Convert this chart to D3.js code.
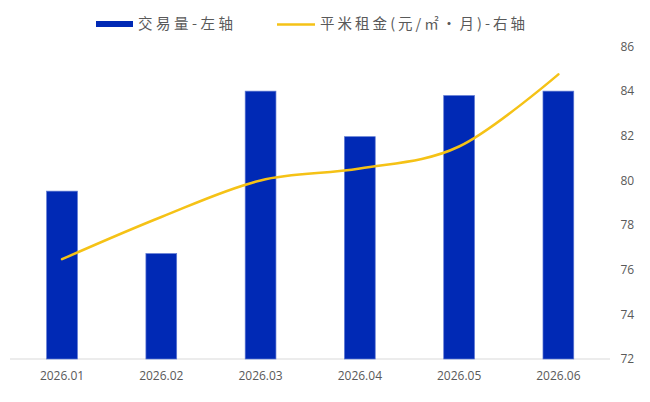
<!DOCTYPE html>
<html>
<head>
<meta charset="utf-8">
<script src="https://cdn.jsdelivr.net/npm/d3@7"></script>
<style>
  html, body { margin: 0; padding: 0; background: #fff; }
  svg { display: block; }
  .tick text { fill: #595959; font-family: "Open Sans", "Noto Sans", sans-serif; font-size: 12px; }
  .legend text { fill: #595959; font-family: "Noto Sans CJK SC", sans-serif; font-size: 14.5px; }
</style>
</head>
<body>
<svg id="chart" width="650" height="402"></svg>
<script>
// months on the x axis
let months = ['2026.01', '2026.02', '2026.03', '2026.04', '2026.05', '2026.06']
// 交易量 (left axis, hidden)
let volume = [188, 118, 300, 249, 295, 300]
// 平米租金 (right axis)
let rent = [76.47, 78.36, 80.0, 80.53, 81.52, 84.75]
let rentTicks = [72, 74, 76, 78, 80, 82, 84, 86]

let svg = d3.select('#chart')

let plotTop = 46.5, plotBottom = 359

let x = d3.scaleBand()
    .domain(months)
    .range([12.4, 608])
    .padding(0)

let yLeft = d3.scaleLinear()
    .domain([0, 350])
    .range([plotBottom, plotTop])

let yRight = d3.scaleLinear()
    .domain([72, 86])
    .range([plotBottom, plotTop])

let barW = x.bandwidth() * 0.31

// baseline
svg.append('line')
    .attr('x1', 10).attr('x2', 610)
    .attr('y1', plotBottom).attr('y2', plotBottom)
    .attr('stroke', '#d9d9d9')
    .attr('stroke-width', 1)

// bars
svg.selectAll('.bar')
    .data(months)
    .enter().append('rect')
    .attr('class', 'bar')
    .attr('x', d => x(d) + x.bandwidth() / 2 - barW / 2)
    .attr('width', barW)
    .attr('y', (d, i) => yLeft(volume[i]))
    .attr('height', (d, i) => plotBottom - yLeft(volume[i]))
    .attr('fill', '#0029b5')
    .attr('stroke', '#5d78d2')
    .attr('stroke-width', 0.7)

// rent line
let line = d3.line()
    .x((d, i) => x(months[i]) + x.bandwidth() / 2)
    .y(d => yRight(d))
    .curve(d3.curveCardinal.tension(0))

svg.append('path')
    .datum(rent)
    .attr('d', line)
    .attr('fill', 'none')
    .attr('stroke', '#f5c216')
    .attr('stroke-width', 2.5)
    .attr('stroke-linecap', 'round')

// x axis labels
let xAxis = d3.axisBottom(x).tickSize(0).tickPadding(12.5)
let gx = svg.append('g')
    .attr('transform', `translate(0, ${plotBottom})`)
    .call(xAxis)
gx.select('.domain').remove()

// right axis labels
let yAxis = d3.axisRight(yRight).tickValues(rentTicks).tickSize(0).tickPadding(0)
let gy = svg.append('g')
    .attr('transform', 'translate(620.5, 0)')
    .call(yAxis)
gy.select('.domain').remove()

// legend
let legend = svg.append('g').attr('class', 'legend')
legend.append('rect')
    .attr('x', 96).attr('y', 21)
    .attr('width', 37).attr('height', 6)
    .attr('fill', '#0029b5')
legend.append('text')
    .attr('x', 138).attr('y', 24)
    .attr('dy', '0.35em')
    .attr('textLength', 95)
    .attr('lengthAdjust', 'spacing')
    .text('交易量-左轴')
legend.append('line')
    .attr('x1', 277).attr('x2', 315)
    .attr('y1', 24.5).attr('y2', 24.5)
    .attr('stroke', '#f5c216')
    .attr('stroke-width', 2.5)
legend.append('text')
    .attr('x', 320).attr('y', 24)
    .attr('dy', '0.35em')
    .attr('textLength', 205)
    .attr('lengthAdjust', 'spacing')
    .text('平米租金(元/㎡•月)-右轴')
</script>
</body>
</html>
